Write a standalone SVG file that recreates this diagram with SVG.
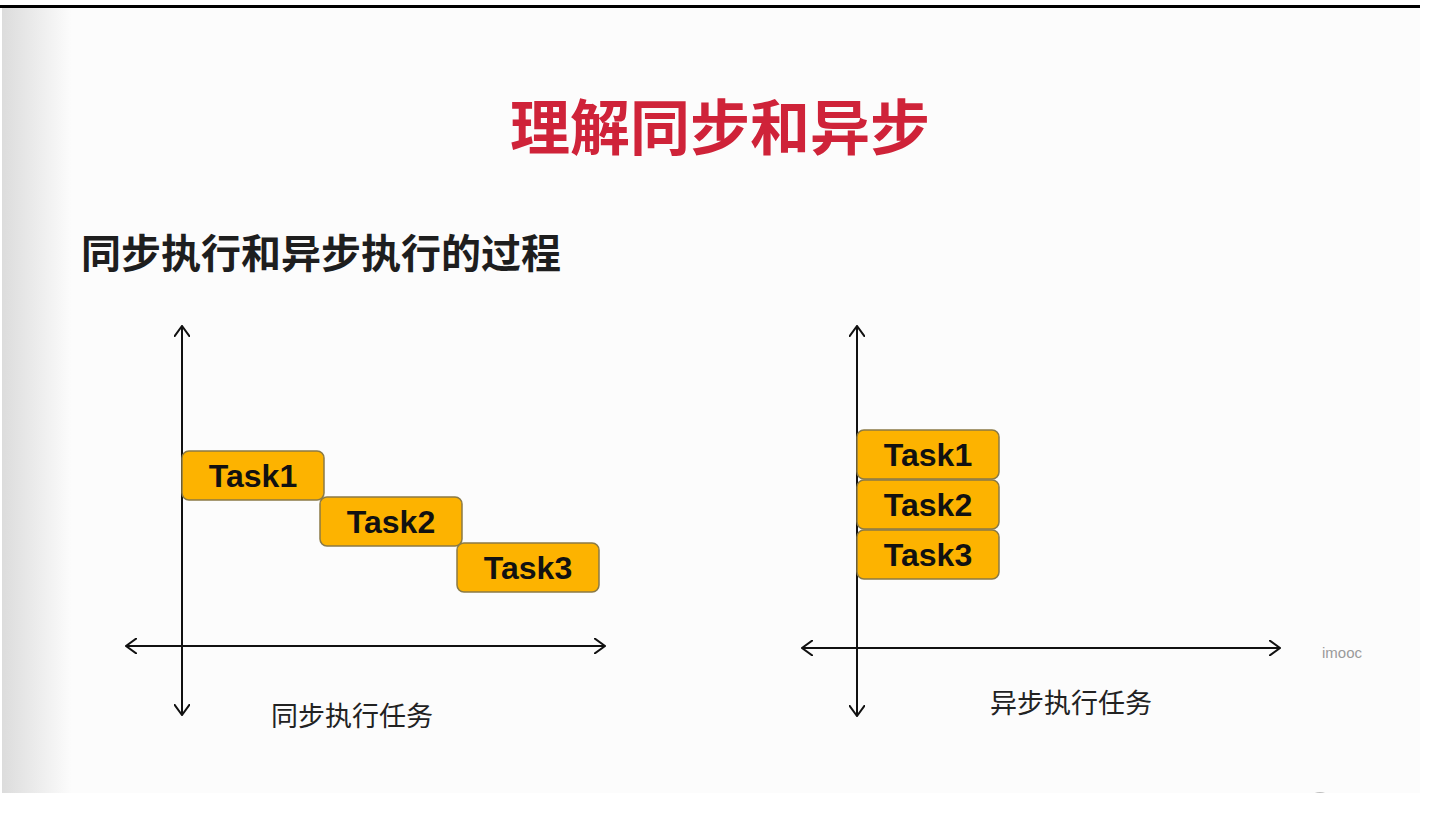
<svg xmlns="http://www.w3.org/2000/svg" width="1447" height="828" viewBox="0 0 1447 828">
<defs>
<linearGradient id="shade" x1="0" y1="0" x2="1" y2="0">
<stop offset="0" stop-color="#dcdcdc"/>
<stop offset="1" stop-color="#fcfcfc"/>
</linearGradient>
<clipPath id="slideClip"><rect x="2" y="8" width="1418" height="785"/></clipPath>
<marker id="arr" viewBox="0 0 12 16" refX="11" refY="8" markerWidth="12" markerHeight="16" markerUnits="userSpaceOnUse" orient="auto-start-reverse">
<path d="M0,0 L11,8 L0,16" fill="none" stroke="#111" stroke-width="2"/>
</marker>
<style>
.axis{stroke:#111;stroke-width:2;fill:none}
.task rect{fill:#fdb300;stroke:#8a7a45;stroke-width:1.5}
.task text{font-family:"Liberation Sans",Arial,sans-serif;font-weight:bold;font-size:32px;fill:#111;text-anchor:middle}
.cap{font-family:"Noto Sans CJK SC",sans-serif;font-size:27px;fill:#222;text-anchor:middle}
</style>
</defs>
<rect width="1447" height="828" fill="#ffffff"/>
<rect x="2" y="8" width="1418" height="785" fill="#fcfcfc"/>
<rect x="2" y="8" width="70" height="785" fill="url(#shade)"/>
<rect x="0" y="5" width="1420" height="3" fill="#000"/>
<circle cx="1320" cy="805" r="13" fill="#bdbdbd" clip-path="url(#slideClip)"/>
<text x="720" y="150" font-family="Noto Sans CJK SC,sans-serif" font-size="60" font-weight="bold" fill="#cf2339" text-anchor="middle">理解同步和异步</text>
<text x="81" y="268" font-family="Noto Sans CJK SC,sans-serif" font-size="40" font-weight="bold" fill="#1e1e1e">同步执行和异步执行的过程</text>
<g id="connectors">
<line class="axis" x1="182" y1="715" x2="182" y2="326" marker-end="url(#arr)" marker-start="url(#arr)"/>
<line class="axis" x1="126" y1="646" x2="605" y2="646" marker-end="url(#arr)" marker-start="url(#arr)"/>
<line class="axis" x1="857" y1="716" x2="857" y2="326" marker-end="url(#arr)" marker-start="url(#arr)"/>
<line class="axis" x1="802" y1="648" x2="1280" y2="648" marker-end="url(#arr)" marker-start="url(#arr)"/>
</g>
<g id="sync-task1" class="task"><rect x="182" y="451" width="142" height="49" rx="7"/><text x="253" y="487">Task1</text></g>
<g id="sync-task2" class="task"><rect x="320" y="497" width="142" height="49" rx="7"/><text x="391" y="533">Task2</text></g>
<g id="sync-task3" class="task"><rect x="457" y="543" width="142" height="49" rx="7"/><text x="528" y="579">Task3</text></g>
<g id="async-task1" class="task"><rect x="857" y="430" width="142" height="49" rx="7"/><text x="928" y="466">Task1</text></g>
<g id="async-task2" class="task"><rect x="857" y="480" width="142" height="49" rx="7"/><text x="928" y="516">Task2</text></g>
<g id="async-task3" class="task"><rect x="857" y="530" width="142" height="49" rx="7"/><text x="928" y="566">Task3</text></g>
<text class="cap" x="352" y="726">同步执行任务</text>
<text class="cap" x="1071" y="713">异步执行任务</text>
<text x="1322" y="658" font-family="Liberation Sans,Arial,sans-serif" font-size="15" fill="#9a9a9a">imooc</text>
</svg>
